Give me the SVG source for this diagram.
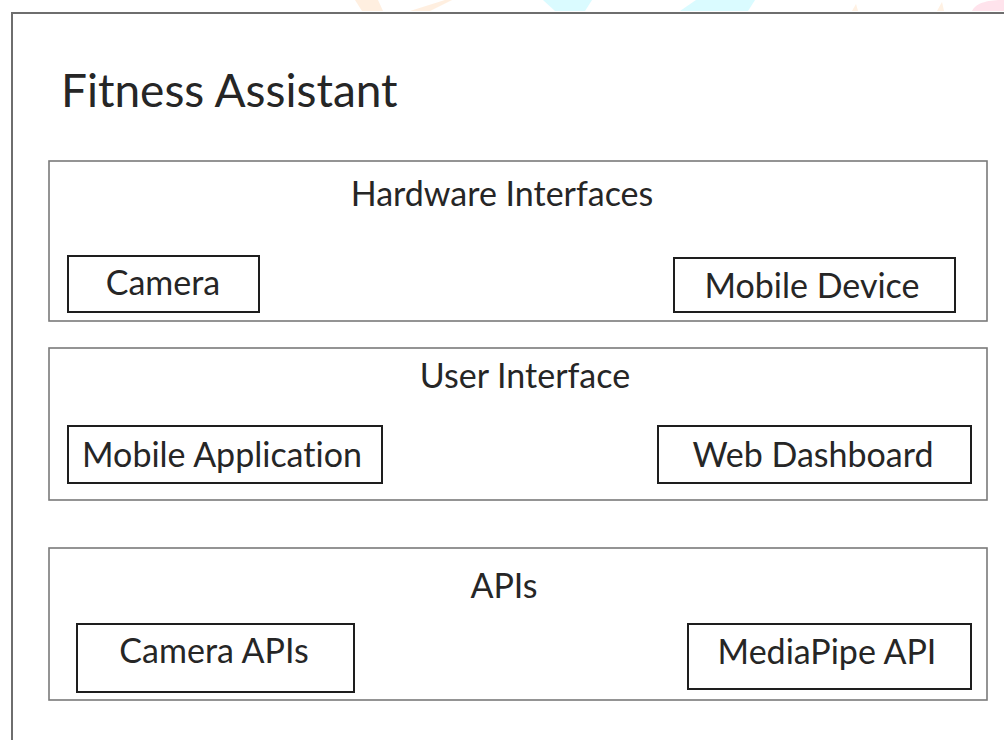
<svg xmlns="http://www.w3.org/2000/svg" width="1004" height="740" viewBox="0 0 1004 740">
  <style>
    .frame { fill: none; stroke: #6e6e6e; stroke-width: 2; }
    .layer { fill: #ffffff; stroke: #7a7a7a; stroke-width: 1.6; }
    .item { fill: #ffffff; stroke: #1e1e1e; stroke-width: 2; }
    .label { font-family: Lato, "Open Sans", sans-serif; fill: #262626; font-variant-ligatures: none; }
    .title { font-size: 46px; }
    .head { font-size: 34px; }
    .name { font-size: 34px; }
  </style>
  <rect width="1004" height="740" fill="#ffffff"/>

  <!-- faint logo fragments above the frame edge -->
  <g id="logo-strip" opacity="0.9">
    <path d="M355 0 L378 0 L383 11 L362 11 Z" fill="#ffeedd"/>
    <path d="M410 11 L445 0 L452 0 L430 11 Z" fill="#ffeedd"/>
    <path d="M543 0 L592 0 L585 11 L555 11 Z" fill="#d6fbff"/>
    <path d="M680 11 L696 0 L755 0 L748 11 Z" fill="#d6fbff"/>
    <path d="M852 11 L856 4 L858 11 Z" fill="#fff0e0"/>
    <path d="M937 11 L942 2 L944 11 Z" fill="#fff0e0"/>
    <path d="M972 11 C976 2 990 0 1004 0 L1004 11 Z" fill="#ffe0ea"/>
  </g>

  <!-- outer system frame -->
  <path class="frame" d="M12 740 L12 13 L1004 13"/>

  <g id="title">
    <text class="label title" x="61" y="107">Fitness Assistant</text>
  </g>

  <!-- layers -->
  <g id="hardware-interfaces">
    <rect class="layer" x="49" y="161" width="938" height="160"/>
    <text class="label head" x="502" y="206" text-anchor="middle">Hardware Interfaces</text>
  </g>
  <g id="camera">
    <rect class="item" x="68" y="256" width="191" height="56"/>
    <text class="label name" x="163" y="295" text-anchor="middle">Camera</text>
  </g>
  <g id="mobile-device">
    <rect class="item" x="674" y="258" width="281" height="54"/>
    <text class="label name" x="812" y="298" text-anchor="middle">Mobile Device</text>
  </g>

  <g id="user-interface">
    <rect class="layer" x="49" y="348" width="938" height="152"/>
    <text class="label head" x="525" y="388" text-anchor="middle">User Interface</text>
  </g>
  <g id="mobile-application">
    <rect class="item" x="68" y="426" width="314" height="57"/>
    <text class="label name" x="222" y="467" text-anchor="middle">Mobile Application</text>
  </g>
  <g id="web-dashboard">
    <rect class="item" x="658" y="426" width="313" height="57"/>
    <text class="label name" x="813" y="467" text-anchor="middle">Web Dashboard</text>
  </g>

  <g id="apis">
    <rect class="layer" x="49" y="548" width="938" height="152"/>
    <text class="label head" x="504" y="598" text-anchor="middle">APIs</text>
  </g>
  <g id="camera-apis">
    <rect class="item" x="77" y="624" width="277" height="68"/>
    <text class="label name" x="214" y="663" text-anchor="middle">Camera APIs</text>
  </g>
  <g id="mediapipe-api">
    <rect class="item" x="688" y="624" width="283" height="65"/>
    <text class="label name" x="827" y="664" text-anchor="middle">MediaPipe API</text>
  </g>

  <g id="connectors"/>
</svg>
